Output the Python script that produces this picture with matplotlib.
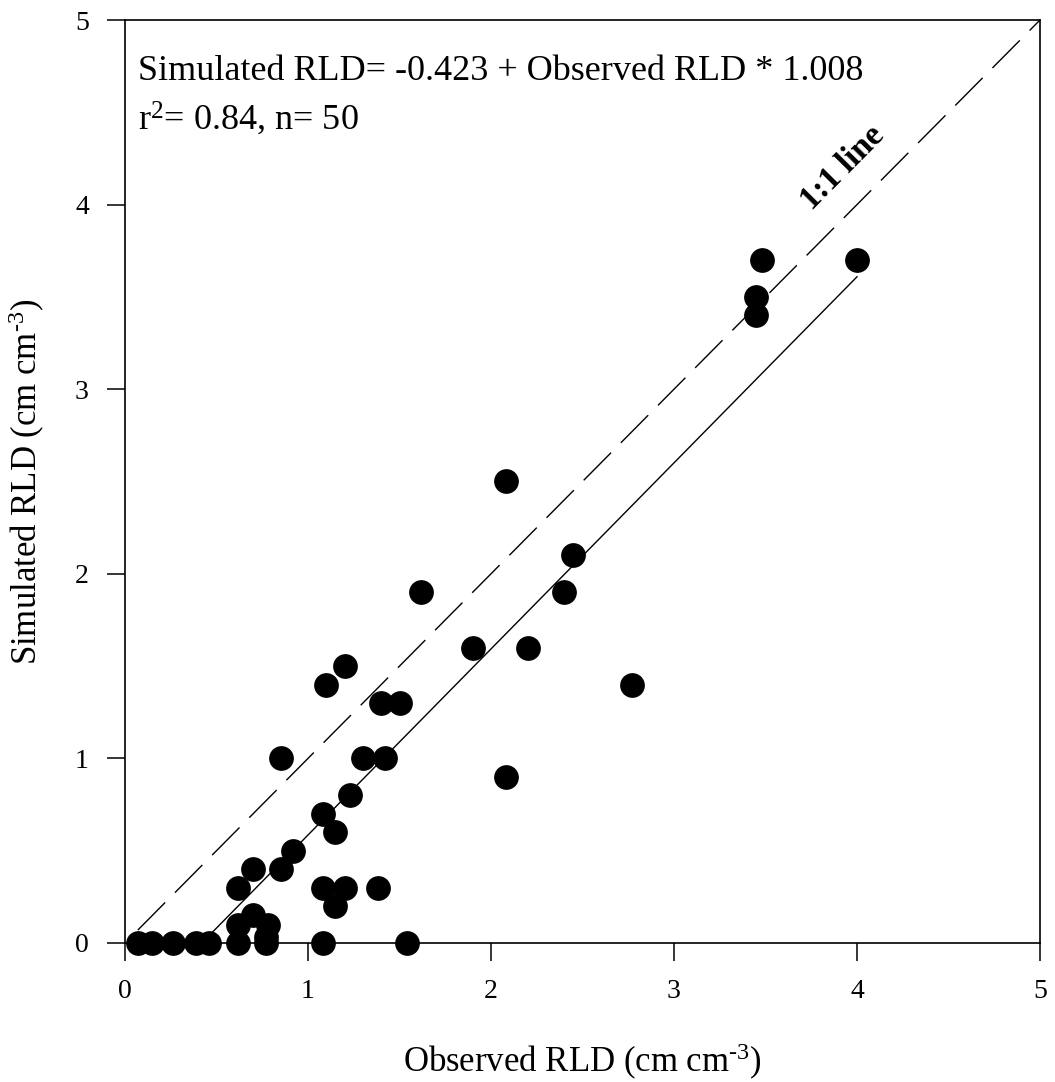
import numpy as np
import matplotlib
matplotlib.use("Agg")
import matplotlib.pyplot as plt

plt.rcParams["font.family"] = ["Liberation Serif", "DejaVu Serif"]
plt.rcParams["mathtext.fontset"] = "custom"
plt.rcParams["mathtext.rm"] = "Liberation Serif"
plt.rcParams["mathtext.it"] = "Liberation Serif:italic"

# observed vs simulated root length density (cm cm-3)
observed = [3.45, 3.45, 3.48, 4.00, 2.08, 2.45, 2.40, 1.62, 1.90, 2.20,
            2.77, 1.10, 1.20, 1.40, 1.50, 0.85, 1.30, 1.42, 2.08, 1.23,
            1.08, 1.15, 0.92, 0.70, 0.85, 0.62, 1.08, 1.20, 1.38, 1.15,
            0.70, 0.62, 0.78, 0.77, 0.07, 0.15, 0.26, 0.39, 0.46, 0.62,
            0.77, 1.08, 1.54]
simulated = [3.50, 3.40, 3.70, 3.70, 2.50, 2.10, 1.90, 1.90, 1.60, 1.60,
             1.40, 1.40, 1.50, 1.30, 1.30, 1.00, 1.00, 1.00, 0.90, 0.80,
             0.70, 0.60, 0.50, 0.40, 0.40, 0.30, 0.30, 0.30, 0.30, 0.20,
             0.15, 0.10, 0.10, 0.03, 0.00, 0.00, 0.00, 0.00, 0.00, 0.00,
             0.00, 0.00, 0.00]

intercept = -0.423
slope = 1.008
fit_range = [0.42, 4.0]
one_to_one = [0.07, 5.0]
ticks = [0, 1, 2, 3, 4, 5]

fig = plt.figure(figsize=(10.55, 10.82), dpi=100)
ax = fig.add_axes([125 / 1055, 1 - 943 / 1082, 915 / 1055, 923 / 1082])

ax.plot(observed, simulated, "o", color="black", ms=16.8, mec="black",
        zorder=3, clip_on=False)

xf = np.array(fit_range)
ax.plot(xf, intercept + slope * xf, color="black", lw=1.0)
ax.plot(one_to_one, one_to_one, color="black", lw=1.0, dashes=(28, 10))

ax.set_xlim(0, 5)
ax.set_ylim(0, 5)
ax.set_xticks(ticks)
ax.set_yticks(ticks)
ax.tick_params(direction="out", length=13, width=1.1, pad=13, labelsize=20)
for sp in ax.spines.values():
    sp.set_linewidth(1.2)

ax.set_xlabel(r"Observed RLD (cm cm$^{\text{-}3}$)", fontsize=25, labelpad=27)
ax.set_ylabel(r"Simulated RLD (cm cm$^{\text{-}3}$)", fontsize=25, labelpad=20)

ax.text(0.014, 0.935, "Simulated RLD= -0.423 + Observed RLD * 1.008",
        transform=ax.transAxes, fontsize=26, ha="left", va="baseline")
ax.text(0.014, 0.881, r"r$^2$= 0.84, n= 50",
        transform=ax.transAxes, fontsize=26, ha="left", va="baseline")

ax.text(3.92, 4.2, "1:1 line", fontsize=24, fontweight="bold",
        rotation=45.3, ha="center", va="center", rotation_mode="anchor")

fig.savefig("out.png", dpi=100)
